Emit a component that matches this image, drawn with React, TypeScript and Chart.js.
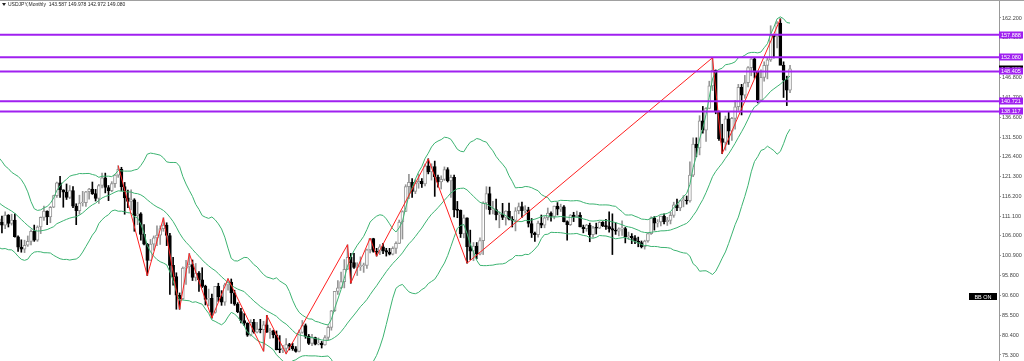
import React, { useEffect, useRef } from 'react';
import { Chart, registerables } from 'chart.js';
Chart.register(...registerables);

// USDJPY monthly, Jan 2002 .. Oct 2024
const START_YEAR = 2002;
const OPEN = [
  131.0,134.7,133.8,132.7,128.5,124.0,119.6,119.8,118.4,121.8,122.5,122.4,
  119.0,119.9,117.9,118.1,119.0,119.4,119.9,120.4,116.9,111.4,109.9,109.6,
  107.2,105.9,109.0,104.2,110.4,109.5,108.8,111.4,109.2,110.1,105.8,103.1,
  102.6,103.6,104.6,107.2,104.9,108.3,110.8,112.4,110.9,113.4,116.4,119.7,
  117.9,117.3,115.9,117.7,113.7,112.5,114.5,114.6,117.4,118.1,116.9,115.7,
  119.0,121.0,118.5,117.7,119.5,121.7,123.2,118.7,115.8,114.9,115.3,111.2,
  111.7,106.4,103.9,99.7,103.9,105.5,106.2,107.9,108.8,106.1,98.4,95.5,
  90.7,89.8,97.7,98.0,98.6,95.3,96.4,94.7,93.0,89.6,89.9,86.3,
  93.0,90.3,88.9,93.4,94.1,91.3,88.4,86.5,84.2,83.5,80.4,83.7,
  81.2,82.0,81.8,83.1,81.2,81.5,80.5,76.7,76.6,77.0,78.0,77.6,
  76.9,76.2,81.1,82.9,80.1,78.3,79.8,78.1,78.4,77.9,79.8,82.4,
  86.7,91.7,92.6,94.2,97.4,100.5,99.1,97.9,98.1,98.3,98.4,102.4,
  105.3,102.0,101.8,103.2,102.2,101.8,101.3,102.8,104.1,109.6,112.3,118.7,
  119.8,117.5,119.6,120.1,119.4,124.1,122.5,123.9,121.2,119.9,120.6,123.1,
  120.2,121.1,112.7,112.6,106.5,110.7,103.2,102.1,103.4,101.3,104.8,114.5,
  116.9,112.8,112.8,111.4,111.5,110.8,112.4,110.3,110.0,112.5,113.6,112.5,
  112.7,109.2,106.7,106.3,109.3,108.8,110.7,111.9,111.0,113.7,112.9,113.5,
  109.7,108.9,111.4,110.9,111.4,108.3,107.9,108.8,106.3,108.1,108.0,109.5,
  108.6,108.4,107.9,107.5,107.2,107.8,107.9,105.8,105.9,105.5,104.7,104.3,
  103.2,104.7,106.6,110.7,109.3,109.6,111.1,109.7,110.0,111.3,114.0,113.2,
  115.1,115.1,115.0,121.7,129.7,128.7,135.7,133.3,138.9,144.7,148.7,138.0,
  131.1,130.1,136.2,133.0,136.3,139.3,144.3,142.3,145.5,149.4,151.7,148.2,
  141.0,146.9,150.0,151.4,157.8,157.3,160.9,150.0,146.2,143.587,
];
const HIGH = [
  135.2,135.0,133.9,133.8,129.0,125.5,120.5,121.4,124.2,125.7,123.0,125.0,
  120.2,121.4,121.4,120.6,119.5,120.6,120.8,120.5,117.3,111.7,110.4,109.7,
  107.4,109.7,112.1,110.5,114.9,111.1,112.2,111.5,111.6,111.7,106.0,105.0,
  104.9,106.0,107.6,108.8,108.6,110.9,113.7,112.5,113.6,116.5,119.9,121.4,
  117.9,119.4,119.0,118.7,114.3,116.5,117.5,117.5,118.3,119.9,118.0,119.3,
  122.2,122.2,119.0,120.0,121.8,124.1,123.7,119.8,117.8,117.9,115.6,114.7,
  112.0,108.9,104.1,105.1,106.0,108.6,108.6,110.7,109.4,106.7,100.5,96.5,
  91.3,98.0,99.7,101.5,99.8,98.9,96.8,97.8,93.3,92.3,91.0,93.0,
  93.8,91.9,93.8,95.0,94.9,92.0,88.8,87.3,86.0,83.6,84.4,84.5,
  83.7,84.5,84.0,85.5,82.2,81.7,81.5,80.3,77.8,79.5,78.3,78.3,
  77.5,81.7,84.2,83.3,80.6,80.6,79.9,79.7,78.8,80.3,82.8,86.8,
  91.7,94.5,96.7,99.9,103.7,101.5,101.5,99.1,100.6,99.0,102.6,105.4,
  105.4,102.8,103.8,104.1,102.8,102.8,103.2,104.5,110.1,112.5,119.2,121.9,
  120.8,120.5,122.0,120.8,124.5,125.9,124.6,125.3,121.7,121.5,123.8,123.6,
  121.7,121.7,114.9,112.7,111.4,110.7,107.5,104.3,104.3,105.5,114.8,118.7,
  118.6,114.9,115.5,112.2,114.4,112.5,114.5,111.0,113.3,114.5,114.7,113.8,
  113.4,110.5,107.0,109.8,111.4,111.0,113.2,112.2,113.7,114.6,114.2,113.8,
  109.9,111.5,112.1,112.4,112.0,108.8,109.0,109.3,108.5,109.3,109.7,109.7,
  110.3,112.2,111.7,109.4,108.1,109.9,108.2,107.0,106.6,106.1,105.7,104.7,
  104.9,106.7,110.9,111.0,110.2,111.1,111.7,110.8,112.1,114.7,115.5,115.2,
  116.4,116.3,125.1,131.3,131.3,137.0,139.4,139.1,145.9,151.9,148.8,138.2,
  134.8,136.9,137.9,136.6,140.9,145.1,145.1,147.4,149.7,151.7,151.9,148.4,
  148.8,150.9,152.0,160.2,157.9,161.3,162.0,150.9,147.2,149.978,
];
const LOW = [
  130.3,131.5,126.9,127.7,123.1,118.4,115.5,116.0,116.9,121.2,119.0,118.5,
  117.8,116.7,115.9,117.8,115.4,116.9,116.7,116.6,110.9,107.9,107.6,106.8,
  105.5,105.6,103.4,103.8,109.0,106.8,107.9,108.3,108.8,105.7,102.0,101.8,
  101.7,103.3,103.7,104.6,104.6,106.6,110.0,108.9,109.4,113.3,115.9,115.9,
  113.4,115.4,115.6,113.3,108.9,111.6,113.7,113.6,115.5,116.7,115.0,114.4,
  118.4,117.1,115.1,117.4,118.5,121.1,117.6,111.6,113.3,112.7,107.2,108.9,
  104.9,103.7,95.8,99.7,102.3,103.5,103.8,107.2,103.5,90.9,93.3,87.1,
  87.1,89.6,93.5,96.4,94.5,94.4,91.7,92.7,88.2,88.0,84.8,86.1,
  89.1,88.1,88.1,92.0,88.6,88.1,86.2,83.6,82.9,80.1,80.2,80.9,
  81.0,81.0,76.3,81.1,79.6,79.7,76.6,75.9,75.9,75.6,76.6,76.5,
  76.0,76.1,80.9,79.6,78.0,77.7,77.9,77.9,77.1,77.8,79.2,81.7,
  86.5,90.9,92.4,92.6,97.3,93.8,97.6,95.8,97.1,96.6,97.6,101.6,
  101.8,100.8,101.2,101.4,100.8,101.1,101.1,101.5,104.0,105.2,112.3,115.6,
  115.9,116.9,118.3,118.5,118.9,122.0,120.4,116.2,118.6,118.1,120.3,119.9,
  115.9,110.9,110.7,105.6,105.5,99.0,99.9,99.6,100.1,101.1,101.2,112.9,
  111.6,111.7,110.1,108.1,110.2,108.8,110.1,108.3,107.3,111.7,110.8,111.9,
  108.3,105.6,104.6,105.7,108.1,108.1,110.1,109.8,110.4,111.4,112.3,109.6,
  104.9,108.7,109.7,110.8,108.3,106.8,107.2,104.5,105.7,106.5,107.9,108.4,
  107.7,107.0,101.2,106.4,106.0,106.1,104.2,105.1,104.0,104.0,103.2,102.9,
  102.6,104.4,106.4,107.5,108.3,108.6,109.1,108.7,109.1,110.8,112.5,112.5,
  113.5,114.2,114.7,121.3,126.4,126.9,132.5,130.4,138.8,143.5,137.5,130.6,
  127.2,128.1,129.6,130.6,133.5,138.4,137.2,141.5,144.4,147.3,146.7,140.3,
  140.8,145.9,146.5,151.0,151.9,154.5,151.9,141.7,139.6,142.972,
];
const CLOSE = [
  134.7,133.8,132.7,128.5,124.0,119.6,119.8,118.4,121.8,122.5,122.4,119.0,
  119.9,117.9,118.1,119.0,119.4,119.9,120.4,116.9,111.4,109.9,109.6,107.2,
  105.9,109.0,104.2,110.4,109.5,108.8,111.4,109.2,110.1,105.8,103.1,102.6,
  103.6,104.6,107.2,104.9,108.3,110.8,112.4,110.9,113.4,116.4,119.7,117.9,
  117.3,115.9,117.7,113.7,112.5,114.5,114.6,117.4,118.1,116.9,115.7,119.0,
  121.0,118.5,117.7,119.5,121.7,123.2,118.7,115.8,114.9,115.3,111.2,111.7,
  106.4,103.9,99.7,103.9,105.5,106.2,107.9,108.8,106.1,98.4,95.5,90.7,
  89.8,97.7,98.0,98.6,95.3,96.4,94.7,93.0,89.6,89.9,86.3,93.0,
  90.3,88.9,93.4,94.1,91.3,88.4,86.5,84.2,83.5,80.4,83.7,81.2,
  82.0,81.8,83.1,81.2,81.5,80.5,76.7,76.6,77.0,78.0,77.6,76.9,
  76.2,81.1,82.9,80.1,78.3,79.8,78.1,78.4,77.9,79.8,82.4,86.7,
  91.7,92.6,94.2,97.4,100.5,99.1,97.9,98.1,98.3,98.4,102.4,105.3,
  102.0,101.8,103.2,102.2,101.8,101.3,102.8,104.1,109.6,112.3,118.7,119.8,
  117.5,119.6,120.1,119.4,124.1,122.5,123.9,121.2,119.9,120.6,123.1,120.2,
  121.1,112.7,112.6,106.5,110.7,103.2,102.1,103.4,101.3,104.8,114.5,116.9,
  112.8,112.8,111.4,111.5,110.8,112.4,110.3,110.0,112.5,113.6,112.5,112.7,
  109.2,106.7,106.3,109.3,108.8,110.7,111.9,111.0,113.7,112.9,113.5,109.7,
  108.9,111.4,110.9,111.4,108.3,107.9,108.8,106.3,108.1,108.0,109.5,108.6,
  108.4,107.9,107.5,107.2,107.8,107.9,105.8,105.9,105.5,104.7,104.3,103.2,
  104.7,106.6,110.7,109.3,109.6,111.1,109.7,110.0,111.3,114.0,113.2,115.1,
  115.1,115.0,121.7,129.7,128.7,135.7,133.3,138.9,144.7,148.7,138.0,131.1,
  130.1,136.2,133.0,136.3,139.3,144.3,142.3,145.5,149.4,151.7,148.2,141.0,
  146.9,150.0,151.4,157.8,157.3,160.9,150.0,146.2,143.6,149.08,
];

// ZigZag pivots
const ZZ_DATES = ['2007-06','2008-03','2008-08','2009-01','2009-04','2009-11','2010-04','2011-03','2011-04','2011-10','2013-05','2013-06','2013-12','2014-02','2015-06','2016-06','2022-10','2023-01','2024-07'];
const ZZ_PRICES = [124.14,95.77,110.66,87.10,101.45,84.82,94.98,76.25,85.53,75.57,103.74,93.79,105.44,100.76,125.86,98.98,151.95,127.21,161.95];

// Horizontal levels
const LEVELS = [157.888, 152.080, 148.405, 140.721, 138.117];
const LEVEL_LABELS = ['157.888', '152.080', '148.405', '140.721', '138.117'];
const LAST_PRICE = 149.08;
const LAST_LABEL = '149.080';

const Y_TICKS = [162.2,157.1,152.0,146.8,141.7,136.6,131.5,126.4,121.3,116.2,111.1,106.0,100.9,95.8,90.6,85.5,80.4,75.3];
const HEADER = 'USDJPY,Monthly  143.587 149.978 142.972 149.080';
const BB_TEXT = 'BB ON';

const X_MIN = 28.4, X_MAX = 337.7, Y_MIN = 73.75, Y_MAX = 166.58;
const BB_PERIOD = 20, BB_DEV = 2;

const monthIndex = (s: string) => {
  const [y, m] = s.split('-').map(Number);
  return (y - START_YEAR) * 12 + (m - 1);
};

export default function App() {
  const ref = useRef<HTMLCanvasElement>(null);
  useEffect(() => {
    const n = CLOSE.length;
    const bull = CLOSE.map((c, i) => c >= OPEN[i]);
    const up: any[] = [], mid: any[] = [], lo: any[] = [];
    for (let i = BB_PERIOD - 1; i < n; i++) {
      const s = CLOSE.slice(i - BB_PERIOD + 1, i + 1);
      const m = s.reduce((a, b) => a + b, 0) / BB_PERIOD;
      const sd = Math.sqrt(s.reduce((a, b) => a + (b - m) * (b - m), 0) / BB_PERIOD);
      up.push({ x: i, y: m + BB_DEV * sd });
      mid.push({ x: i, y: m });
      lo.push({ x: i, y: m - BB_DEV * sd });
    }
    const green = '#3cb371';
    const purple = '#a020f0';
    const font = '"Liberation Sans", Arial, sans-serif';
    const datasets: any[] = [
      {
        type: 'bar', label: 'wick',
        data: CLOSE.map((_, i) => ({ x: i, y: [LOW[i], HIGH[i]] })),
        backgroundColor: bull.map(b => (b ? '#959595' : '#000')),
        barThickness: 1, grouped: false, order: 5,
      },
      {
        type: 'bar', label: 'body',
        data: CLOSE.map((c, i) => ({ x: i, y: [OPEN[i], c] })),
        backgroundColor: bull.map(b => (b ? '#ffffff' : '#000')),
        borderColor: bull.map(b => (b ? '#959595' : '#000')),
        borderWidth: 1, borderSkipped: false, minBarLength: 1,
        barThickness: 3, grouped: false, order: 4,
      },
      ...[up, mid, lo].map((d, k) => ({
        type: 'line', label: 'bb' + k, data: d, borderColor: green, borderWidth: 1,
        pointRadius: 0, tension: 0, order: 3,
      })),
      {
        type: 'line', label: 'zz',
        data: ZZ_DATES.map((d, i) => ({ x: monthIndex(d), y: ZZ_PRICES[i] })),
        borderColor: '#ff2020', borderWidth: 1, pointRadius: 0, tension: 0, order: 2,
      },
      ...LEVELS.map((v, k) => ({
        type: 'line', label: 'lvl' + k,
        data: [{ x: X_MIN, y: v }, { x: X_MAX, y: v }],
        borderColor: purple, borderWidth: 2, pointRadius: 0, order: 1,
      })),
    ];

    const overlay = {
      id: 'overlay',
      afterDraw(chart: any) {
        const ctx = chart.ctx;
        const ys = chart.scales.y;
        const ax = chart.chartArea.right;
        ctx.save();
        ctx.strokeStyle = '#a0a0a0';
        ctx.lineWidth = 1;
        ctx.beginPath(); ctx.moveTo(0, 0.5); ctx.lineTo(chart.width, 0.5); ctx.stroke();
        // header
        ctx.fillStyle = '#222';
        ctx.beginPath(); ctx.moveTo(2, 3); ctx.lineTo(6, 3); ctx.lineTo(4, 6); ctx.closePath(); ctx.fill();
        ctx.font = '5px ' + font;
        ctx.textBaseline = 'middle';
        ctx.fillText(HEADER, 8, 5);
        // axis tags
        ctx.font = '5.5px ' + font;
        const tag = (v: number, bg: string, text: string) => {
          const py = Math.round(ys.getPixelForValue(v));
          ctx.fillStyle = bg;
          ctx.fillRect(ax, py - 3.5, 24, 7);
          ctx.fillStyle = '#fff';
          ctx.textAlign = 'left';
          ctx.fillText(text, ax + 2, py + 0.5);
        };
        tag(LAST_PRICE, '#000', LAST_LABEL);
        LEVELS.forEach((v, k) => tag(v, purple, LEVEL_LABELS[k]));
        // BB ON label
        ctx.fillStyle = '#000';
        ctx.fillRect(ax - 30, 293, 28, 7);
        ctx.fillStyle = '#fff';
        ctx.textAlign = 'center';
        ctx.font = '5.5px ' + font;
        ctx.fillText(BB_TEXT, ax - 16, 297);
        ctx.restore();
      },
    };

    const chart = new Chart(ref.current!, {
      type: 'bar',
      data: { datasets },
      options: {
        animation: false,
        responsive: false,
        layout: { padding: { top: 1, left: 0, right: 0, bottom: 0 } },
        plugins: { legend: { display: false }, tooltip: { enabled: false } },
        scales: {
          x: { type: 'linear', min: X_MIN, max: X_MAX, display: false, offset: false },
          y: {
            position: 'right', min: Y_MIN, max: Y_MAX,
            afterBuildTicks: (s: any) => { s.ticks = Y_TICKS.map(v => ({ value: v })); },
            afterFit: (s: any) => { s.width = 25; s.paddingTop = 0; s.paddingBottom = 0; },
            ticks: {
              autoSkip: false, padding: 1, color: '#444',
              font: { family: font, size: 5.5 },
              callback: (v: any) => Number(v).toFixed(3),
            },
            grid: { drawOnChartArea: false, drawTicks: true, tickLength: 2, color: '#999' },
            border: { display: true, color: '#999' },
          },
        },
      } as any,
      plugins: [overlay],
    });
    return () => chart.destroy();
  }, []);
  return (
    <div style={{ position: 'fixed', left: 0, top: 0, width: 1024, height: 361, background: '#fff' }}>
      <canvas ref={ref} width={1024} height={361} style={{ width: 1024, height: 361, display: 'block' }} />
    </div>
  );
}
